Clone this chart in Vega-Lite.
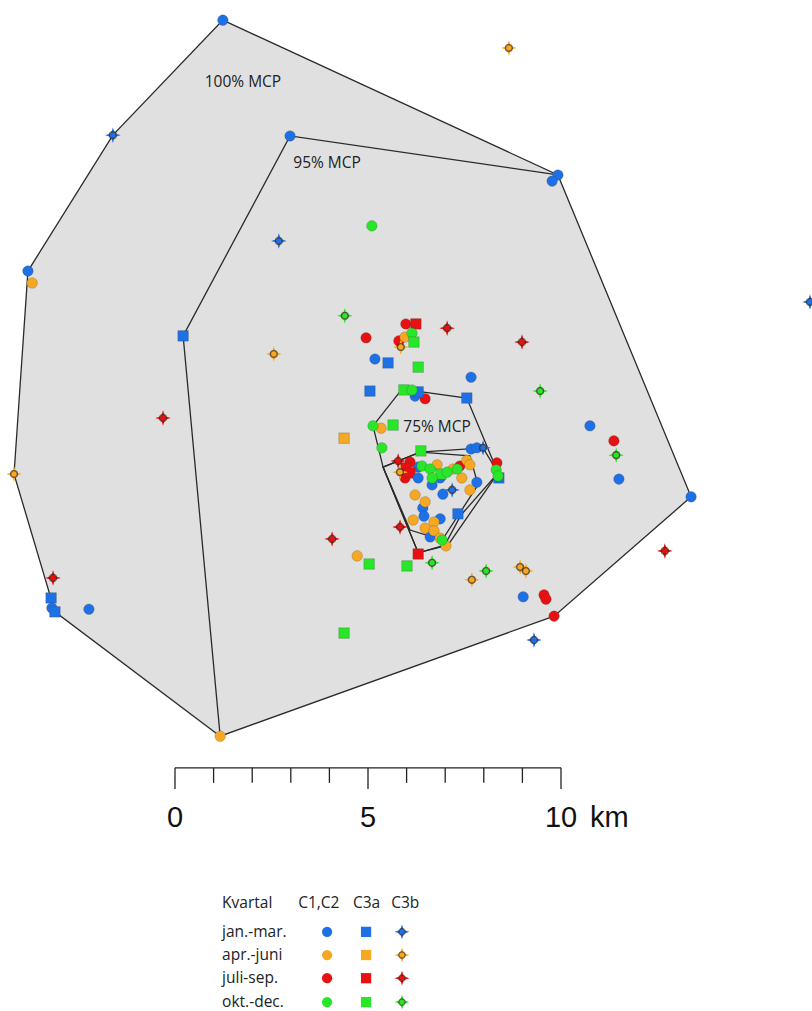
{
  "$schema": "https://vega.github.io/schema/vega-lite/v6.json",
  "width": 812,
  "height": 1011,
  "padding": 0,
  "autosize": {"type": "none"},
  "background": "white",
  "config": {"view": {"stroke": null}},
  "datasets": {
    "hull100": [
      {"i": 0, "x": 1.24, "y": 25.67}, {"i": 1, "x": 9.92, "y": 21.66}, {"i": 2, "x": 13.37, "y": 13.32},
      {"i": 3, "x": 9.82, "y": 10.23}, {"i": 4, "x": 1.17, "y": 7.12}, {"i": 5, "x": -3.11, "y": 10.34},
      {"i": 6, "x": -4.17, "y": 13.91}, {"i": 7, "x": -3.81, "y": 19.17}, {"i": 8, "x": -1.61, "y": 22.69}
    ],
    "hull95": [
      {"i": 0, "x": 1.17, "y": 7.12}, {"i": 1, "x": 0.21, "y": 17.49}, {"i": 2, "x": 2.98, "y": 22.67},
      {"i": 3, "x": 9.92, "y": 21.66}
    ],
    "inner": [
      {"g": "75", "i": 0, "x": 5.88, "y": 16.11}, {"g": "75", "i": 1, "x": 7.56, "y": 15.88}, {"g": "75", "i": 2, "x": 8.37, "y": 13.94},
      {"g": "75", "i": 3, "x": 7.07, "y": 12.07}, {"g": "75", "i": 4, "x": 6.30, "y": 11.87}, {"g": "75", "i": 5, "x": 5.39, "y": 14.09},
      {"g": "75", "i": 6, "x": 5.13, "y": 15.16},
      {"g": "a", "i": 0, "x": 5.39, "y": 14.09}, {"g": "a", "i": 1, "x": 6.35, "y": 14.48}, {"g": "a", "i": 2, "x": 7.98, "y": 14.59},
      {"g": "a", "i": 3, "x": 8.37, "y": 13.94}, {"g": "a", "i": 4, "x": 7.41, "y": 12.85}, {"g": "a", "i": 5, "x": 6.99, "y": 12.07},
      {"g": "a", "i": 6, "x": 6.30, "y": 11.87},
      {"g": "b", "i": 0, "x": 5.39, "y": 14.09}, {"g": "b", "i": 1, "x": 6.35, "y": 14.48}, {"g": "b", "i": 2, "x": 7.64, "y": 14.38},
      {"g": "b", "i": 3, "x": 7.85, "y": 13.63}, {"g": "b", "i": 4, "x": 6.92, "y": 12.20}, {"g": "b", "i": 5, "x": 6.09, "y": 12.46}
    ],
    "pts": [
      {"x": 1.24, "y": 25.67, "q": "jan", "t": "C1,C2"},
      {"x": 8.65, "y": 24.95, "q": "apr", "t": "C3b"},
      {"x": -1.61, "y": 22.69, "q": "jan", "t": "C3b"},
      {"x": 2.98, "y": 22.67, "q": "jan", "t": "C1,C2"},
      {"x": 9.92, "y": 21.66, "q": "jan", "t": "C1,C2"},
      {"x": 9.77, "y": 21.50, "q": "jan", "t": "C1,C2"},
      {"x": 5.10, "y": 20.34, "q": "okt", "t": "C1,C2"},
      {"x": 2.69, "y": 19.95, "q": "jan", "t": "C3b"},
      {"x": -3.70, "y": 18.86, "q": "apr", "t": "C1,C2"},
      {"x": -3.81, "y": 19.17, "q": "jan", "t": "C1,C2"},
      {"x": 16.45, "y": 18.37, "q": "jan", "t": "C3b"},
      {"x": 0.21, "y": 17.49, "q": "jan", "t": "C3a"},
      {"x": 4.40, "y": 18.01, "q": "okt", "t": "C3b"},
      {"x": 2.56, "y": 17.02, "q": "apr", "t": "C3b"},
      {"x": 4.95, "y": 17.44, "q": "jul", "t": "C1,C2"},
      {"x": 5.98, "y": 17.80, "q": "jul", "t": "C1,C2"},
      {"x": 6.24, "y": 17.80, "q": "jul", "t": "C3a"},
      {"x": 5.80, "y": 17.36, "q": "jul", "t": "C1,C2"},
      {"x": 5.96, "y": 17.46, "q": "apr", "t": "C1,C2"},
      {"x": 6.14, "y": 17.56, "q": "okt", "t": "C1,C2"},
      {"x": 6.19, "y": 17.33, "q": "okt", "t": "C3a"},
      {"x": 5.85, "y": 17.20, "q": "apr", "t": "C3b"},
      {"x": 7.05, "y": 17.69, "q": "jul", "t": "C3b"},
      {"x": 8.99, "y": 17.33, "q": "jul", "t": "C3b"},
      {"x": 5.18, "y": 16.89, "q": "jan", "t": "C1,C2"},
      {"x": 5.52, "y": 16.79, "q": "jan", "t": "C3a"},
      {"x": 6.30, "y": 16.68, "q": "okt", "t": "C3a"},
      {"x": 7.67, "y": 16.42, "q": "jan", "t": "C1,C2"},
      {"x": 5.05, "y": 16.06, "q": "jan", "t": "C3a"},
      {"x": 6.22, "y": 15.93, "q": "jan", "t": "C1,C2"},
      {"x": 6.48, "y": 15.86, "q": "jul", "t": "C1,C2"},
      {"x": 6.30, "y": 16.04, "q": "jan", "t": "C3a"},
      {"x": 5.93, "y": 16.09, "q": "okt", "t": "C3a"},
      {"x": 6.14, "y": 16.09, "q": "okt", "t": "C1,C2"},
      {"x": 7.56, "y": 15.88, "q": "jan", "t": "C3a"},
      {"x": 9.46, "y": 16.06, "q": "okt", "t": "C3b"},
      {"x": -0.31, "y": 15.36, "q": "jul", "t": "C3b"},
      {"x": 4.38, "y": 14.84, "q": "apr", "t": "C3a"},
      {"x": 10.75, "y": 15.16, "q": "jan", "t": "C1,C2"},
      {"x": 11.37, "y": 14.77, "q": "jul", "t": "C1,C2"},
      {"x": 11.43, "y": 14.40, "q": "okt", "t": "C3b"},
      {"x": 11.50, "y": 13.78, "q": "jan", "t": "C1,C2"},
      {"x": -4.17, "y": 13.91, "q": "apr", "t": "C3b"},
      {"x": 13.37, "y": 13.32, "q": "jan", "t": "C1,C2"},
      {"x": 5.34, "y": 15.10, "q": "apr", "t": "C1,C2"},
      {"x": 5.13, "y": 15.16, "q": "okt", "t": "C1,C2"},
      {"x": 5.65, "y": 15.18, "q": "okt", "t": "C3a"},
      {"x": 5.36, "y": 14.59, "q": "okt", "t": "C1,C2"},
      {"x": 6.37, "y": 14.51, "q": "okt", "t": "C3a"},
      {"x": 5.78, "y": 14.25, "q": "jul", "t": "C3b"},
      {"x": 6.30, "y": 14.09, "q": "jan", "t": "C1,C2"},
      {"x": 6.09, "y": 14.22, "q": "jul", "t": "C1,C2"},
      {"x": 5.98, "y": 14.07, "q": "jul", "t": "C3a"},
      {"x": 5.96, "y": 13.81, "q": "jul", "t": "C1,C2"},
      {"x": 6.09, "y": 13.94, "q": "jul", "t": "C3a"},
      {"x": 5.83, "y": 13.96, "q": "apr", "t": "C3b"},
      {"x": 6.30, "y": 13.81, "q": "jan", "t": "C1,C2"},
      {"x": 6.66, "y": 13.63, "q": "jan", "t": "C1,C2"},
      {"x": 6.87, "y": 13.81, "q": "jan", "t": "C1,C2"},
      {"x": 6.79, "y": 14.15, "q": "apr", "t": "C1,C2"},
      {"x": 7.20, "y": 14.04, "q": "apr", "t": "C1,C2"},
      {"x": 7.38, "y": 14.12, "q": "jul", "t": "C1,C2"},
      {"x": 7.56, "y": 14.27, "q": "apr", "t": "C1,C2"},
      {"x": 7.64, "y": 14.15, "q": "apr", "t": "C1,C2"},
      {"x": 7.43, "y": 13.81, "q": "apr", "t": "C1,C2"},
      {"x": 7.64, "y": 13.50, "q": "apr", "t": "C1,C2"},
      {"x": 7.67, "y": 14.56, "q": "jan", "t": "C1,C2"},
      {"x": 7.82, "y": 14.59, "q": "jan", "t": "C1,C2"},
      {"x": 7.98, "y": 14.59, "q": "jan", "t": "C3b"},
      {"x": 7.82, "y": 13.70, "q": "jan", "t": "C1,C2"},
      {"x": 6.40, "y": 14.12, "q": "okt", "t": "C1,C2"},
      {"x": 6.61, "y": 14.04, "q": "okt", "t": "C1,C2"},
      {"x": 6.89, "y": 13.91, "q": "okt", "t": "C3a"},
      {"x": 6.66, "y": 13.81, "q": "okt", "t": "C1,C2"},
      {"x": 7.05, "y": 13.96, "q": "okt", "t": "C1,C2"},
      {"x": 7.31, "y": 14.04, "q": "okt", "t": "C1,C2"},
      {"x": 8.34, "y": 14.20, "q": "jul", "t": "C1,C2"},
      {"x": 8.39, "y": 13.81, "q": "jan", "t": "C3a"},
      {"x": 8.32, "y": 14.02, "q": "okt", "t": "C1,C2"},
      {"x": 8.37, "y": 13.86, "q": "okt", "t": "C1,C2"},
      {"x": 7.18, "y": 13.50, "q": "jan", "t": "C3b"},
      {"x": 6.94, "y": 13.39, "q": "jan", "t": "C1,C2"},
      {"x": 6.42, "y": 13.03, "q": "jan", "t": "C1,C2"},
      {"x": 6.22, "y": 13.37, "q": "apr", "t": "C1,C2"},
      {"x": 6.48, "y": 13.19, "q": "apr", "t": "C1,C2"},
      {"x": 7.33, "y": 12.88, "q": "jan", "t": "C3a"},
      {"x": 6.87, "y": 12.75, "q": "jan", "t": "C1,C2"},
      {"x": 6.45, "y": 12.82, "q": "jan", "t": "C1,C2"},
      {"x": 6.71, "y": 12.67, "q": "apr", "t": "C1,C2"},
      {"x": 6.17, "y": 12.72, "q": "apr", "t": "C1,C2"},
      {"x": 6.61, "y": 12.28, "q": "jan", "t": "C1,C2"},
      {"x": 6.48, "y": 12.51, "q": "apr", "t": "C1,C2"},
      {"x": 6.71, "y": 12.44, "q": "apr", "t": "C1,C2"},
      {"x": 6.87, "y": 12.25, "q": "apr", "t": "C1,C2"},
      {"x": 7.02, "y": 12.05, "q": "apr", "t": "C1,C2"},
      {"x": 6.92, "y": 12.20, "q": "okt", "t": "C1,C2"},
      {"x": 5.83, "y": 12.54, "q": "jul", "t": "C3b"},
      {"x": 6.30, "y": 11.84, "q": "jul", "t": "C3a"},
      {"x": 6.66, "y": 11.61, "q": "okt", "t": "C3b"},
      {"x": 6.01, "y": 11.53, "q": "okt", "t": "C3a"},
      {"x": 4.72, "y": 11.79, "q": "apr", "t": "C1,C2"},
      {"x": 5.03, "y": 11.58, "q": "okt", "t": "C3a"},
      {"x": 4.07, "y": 12.23, "q": "jul", "t": "C3b"},
      {"x": 7.69, "y": 11.17, "q": "apr", "t": "C3b"},
      {"x": 8.06, "y": 11.40, "q": "okt", "t": "C3b"},
      {"x": 8.94, "y": 11.50, "q": "apr", "t": "C3b"},
      {"x": 9.09, "y": 11.40, "q": "apr", "t": "C3b"},
      {"x": 9.02, "y": 10.73, "q": "jan", "t": "C1,C2"},
      {"x": 9.56, "y": 10.78, "q": "jul", "t": "C1,C2"},
      {"x": 9.61, "y": 10.67, "q": "jul", "t": "C1,C2"},
      {"x": 9.82, "y": 10.23, "q": "jul", "t": "C1,C2"},
      {"x": 9.30, "y": 9.61, "q": "jan", "t": "C3b"},
      {"x": 12.69, "y": 11.92, "q": "jul", "t": "C3b"},
      {"x": -3.16, "y": 11.22, "q": "jul", "t": "C3b"},
      {"x": -3.21, "y": 10.70, "q": "jan", "t": "C3a"},
      {"x": -3.19, "y": 10.44, "q": "jan", "t": "C1,C2"},
      {"x": -3.11, "y": 10.34, "q": "jan", "t": "C3a"},
      {"x": -2.23, "y": 10.41, "q": "jan", "t": "C1,C2"},
      {"x": 4.38, "y": 9.79, "q": "okt", "t": "C3a"},
      {"x": 1.17, "y": 7.12, "q": "apr", "t": "C1,C2"}
    ],
    "legsym": [
      {"x": 3.94, "y": 2.05, "q": "jan", "t": "C1,C2"}, {"x": 4.95, "y": 2.05, "q": "jan", "t": "C3a"}, {"x": 5.88, "y": 2.05, "q": "jan", "t": "C3b"},
      {"x": 3.94, "y": 1.45, "q": "apr", "t": "C1,C2"}, {"x": 4.95, "y": 1.45, "q": "apr", "t": "C3a"}, {"x": 5.88, "y": 1.45, "q": "apr", "t": "C3b"},
      {"x": 3.94, "y": 0.85, "q": "jul", "t": "C1,C2"}, {"x": 4.95, "y": 0.85, "q": "jul", "t": "C3a"}, {"x": 5.88, "y": 0.85, "q": "jul", "t": "C3b"},
      {"x": 3.94, "y": 0.23, "q": "okt", "t": "C1,C2"}, {"x": 4.95, "y": 0.23, "q": "okt", "t": "C3a"}, {"x": 5.88, "y": 0.23, "q": "okt", "t": "C3b"}
    ],
    "legtext": [
      {"x": 1.22, "y": 2.80, "label": "Kvartal"},
      {"x": 3.19, "y": 2.80, "label": "C1,C2"},
      {"x": 4.61, "y": 2.80, "label": "C3a"},
      {"x": 5.60, "y": 2.80, "label": "C3b"},
      {"x": 1.22, "y": 2.05, "label": "jan.-mar."},
      {"x": 1.22, "y": 1.45, "label": "apr.-juni"},
      {"x": 1.22, "y": 0.85, "label": "juli-sep."},
      {"x": 1.22, "y": 0.23, "label": "okt.-dec."}
    ],
    "mcplabels": [
      {"x": 1.76, "y": 24.07, "label": "100% MCP"},
      {"x": 3.94, "y": 21.97, "label": "95% MCP"},
      {"x": 6.79, "y": 15.13, "label": "75% MCP"}
    ]
  },
  "encoding": {
    "x": {"field": "x", "type": "quantitative", "scale": {"domain": [-4.5337, 16.5026], "nice": false, "zero": false}, "axis": null},
    "y": {"field": "y", "type": "quantitative", "scale": {"domain": [0, 26.1917], "nice": false, "zero": false}, "axis": null}
  },
  "layer": [
    {
      "data": {"name": "hull100"},
      "mark": {"type": "line", "interpolate": "linear-closed", "fill": "#e0e0e0", "stroke": "#2a2a2a", "strokeWidth": 1.3},
      "encoding": {"order": {"field": "i", "type": "quantitative"}}
    },
    {
      "data": {"name": "hull95"},
      "mark": {"type": "line", "stroke": "#2a2a2a", "strokeWidth": 1.3},
      "encoding": {"order": {"field": "i", "type": "quantitative"}}
    },
    {
      "data": {"name": "inner"},
      "mark": {"type": "line", "interpolate": "linear-closed", "stroke": "#2a2a2a", "strokeWidth": 1.3},
      "encoding": {"order": {"field": "i", "type": "quantitative"}, "detail": {"field": "g"}}
    },
    {
      "data": {"name": "mcplabels"},
      "mark": {"type": "text", "font": "Open Sans", "fontSize": 15.5, "color": "#222", "align": "center", "baseline": "middle"},
      "encoding": {"text": {"field": "label"}}
    },
    {
      "data": {"name": "pts"},
      "transform": [{"filter": "datum.t !== 'C3b'"}],
      "mark": {"type": "point", "filled": true, "opacity": 1, "size": 112, "stroke": "#444", "strokeWidth": 0.5, "strokeOpacity": 0.5},
      "encoding": {
        "fill": {"field": "q", "type": "nominal", "scale": {"domain": ["jan", "apr", "jul", "okt"], "range": ["#1e70e6", "#f7a823", "#e81010", "#28e628"]}, "legend": null},
        "shape": {"field": "t", "type": "nominal", "scale": {"domain": ["C1,C2", "C3a"], "range": ["circle", "square"]}, "legend": null}
      }
    },
    {
      "data": {"name": "pts"},
      "transform": [{"filter": "datum.t === 'C3b'"}],
      "mark": {"type": "point", "filled": true, "opacity": 1, "size": 240, "shape": "M0,-1L0.25,-0.25L1,0L0.25,0.25L0,1L-0.25,0.25L-1,0L-0.25,-0.25Z"},
      "encoding": {
        "fill": {"field": "q", "type": "nominal", "legend": null}
      }
    },
    {
      "data": {"name": "pts"},
      "transform": [{"filter": "datum.t === 'C3b'"}],
      "mark": {"type": "point", "shape": "circle", "filled": true, "size": 46, "stroke": "#3a2a1a", "strokeWidth": 1.3},
      "encoding": {
        "fill": {"field": "q", "type": "nominal", "legend": null}
      }
    },
    {
      "data": {"name": "legsym"},
      "transform": [{"filter": "datum.t !== 'C3b'"}],
      "mark": {"type": "point", "filled": true, "opacity": 1, "size": 105},
      "encoding": {
        "fill": {"field": "q", "type": "nominal", "legend": null},
        "shape": {"field": "t", "type": "nominal", "legend": null}
      }
    },
    {
      "data": {"name": "legsym"},
      "transform": [{"filter": "datum.t === 'C3b'"}],
      "mark": {"type": "point", "filled": true, "opacity": 1, "size": 220, "shape": "M0,-1L0.25,-0.25L1,0L0.25,0.25L0,1L-0.25,0.25L-1,0L-0.25,-0.25Z"},
      "encoding": {
        "fill": {"field": "q", "type": "nominal", "legend": null}
      }
    },
    {
      "data": {"name": "legsym"},
      "transform": [{"filter": "datum.t === 'C3b'"}],
      "mark": {"type": "point", "shape": "circle", "filled": true, "size": 40, "stroke": "#3a2a1a", "strokeWidth": 1.2},
      "encoding": {
        "fill": {"field": "q", "type": "nominal", "legend": null}
      }
    },
    {
      "data": {"name": "legtext"},
      "mark": {"type": "text", "font": "Open Sans", "fontSize": 15.5, "color": "#222", "align": "left", "baseline": "middle"},
      "encoding": {"text": {"field": "label"}}
    },
    {
      "data": {"values": [{"x": 0, "x2": 10, "y": 6.30}]},
      "mark": {"type": "rule", "color": "#222", "strokeWidth": 1.3},
      "encoding": {"x2": {"field": "x2"}}
    },
    {
      "data": {"values": [{"x": 0, "y": 6.30}, {"x": 5, "y": 6.30}, {"x": 10, "y": 6.30}]},
      "mark": {"type": "rule", "color": "#222", "strokeWidth": 1.3},
      "encoding": {"y2": {"datum": 5.75}}
    },
    {
      "data": {"values": [{"x": 1, "y": 6.30}, {"x": 2, "y": 6.30}, {"x": 3, "y": 6.30}, {"x": 4, "y": 6.30}, {"x": 6, "y": 6.30}, {"x": 7, "y": 6.30}, {"x": 8, "y": 6.30}, {"x": 9, "y": 6.30}]},
      "mark": {"type": "rule", "color": "#222", "strokeWidth": 1.3},
      "encoding": {"y2": {"datum": 5.91}}
    },
    {
      "data": {"values": [{"x": 0, "y": 4.77, "label": "0"}, {"x": 5, "y": 4.77, "label": "5"}, {"x": 10, "y": 4.77, "label": "10"}]},
      "mark": {"type": "text", "font": "Liberation Sans", "fontSize": 29, "color": "#111", "align": "center", "baseline": "alphabetic"},
      "encoding": {"text": {"field": "label"}}
    },
    {
      "data": {"values": [{"x": 10.75, "y": 4.77, "label": "km"}]},
      "mark": {"type": "text", "font": "Liberation Sans", "fontSize": 29, "color": "#111", "align": "left", "baseline": "alphabetic"},
      "encoding": {"text": {"field": "label"}}
    }
  ]
}
